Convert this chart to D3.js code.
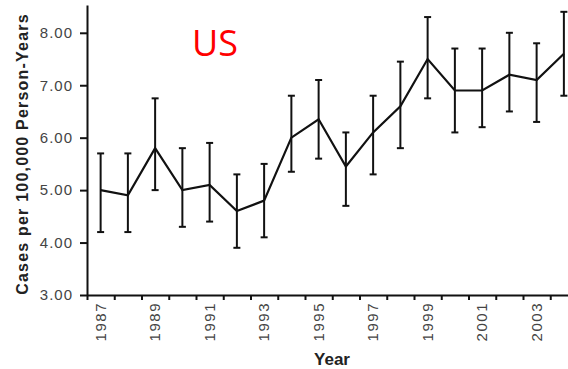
<!DOCTYPE html>
<html>
<head>
<meta charset="utf-8">
<script src="https://cdn.jsdelivr.net/npm/d3@7"></script>
<style>
  body { margin: 0; background: #fff; }
  text { font-family: "Liberation Sans", Arial, sans-serif; }
</style>
</head>
<body>
<div id="chart"></div>
<script>
// values
var years = [1987, 1988, 1989, 1990, 1991, 1992, 1993, 1994, 1995, 1996,
             1997, 1998, 1999, 2000, 2001, 2002, 2003, 2004];
var rates = [5.0, 4.9, 5.8, 5.0, 5.1, 4.6, 4.8, 6.0, 6.35, 5.45,
             6.1, 6.6, 7.5, 6.9, 6.9, 7.2, 7.1, 7.6];
var lower = [4.2, 4.2, 5.0, 4.3, 4.4, 3.9, 4.1, 5.35, 5.6, 4.7,
             5.3, 5.8, 6.75, 6.1, 6.2, 6.5, 6.3, 6.8];
var upper = [5.7, 5.7, 6.75, 5.8, 5.9, 5.3, 5.5, 6.8, 7.1, 6.1,
             6.8, 7.45, 8.3, 7.7, 7.7, 8.0, 7.8, 8.4];
var yTicks = [3, 4, 5, 6, 7, 8];
var xLabels = [1987, 1989, 1991, 1993, 1995, 1997, 1999, 2001, 2003];

var data = years.map(function (y, i) {
  return {year: y, rate: rates[i], lo: lower[i], hi: upper[i]};
});

var width = 568, height = 369;

var svg = d3.select("#chart").append("svg")
  .attr("width", width)
  .attr("height", height);

var xScale = d3.scaleLinear()
  .domain([1986.5, 2004.5])
  .range([87, 577.5]);

var yScale = d3.scaleLinear()
  .domain([3, 8.53])
  .range([295, 5]);

// y axis
var yAxis = svg.append("g")
  .attr("transform", "translate(87,0)")
  .call(d3.axisLeft(yScale).tickValues(yTicks).tickSize(7).tickPadding(7)
    .tickFormat(d3.format(".2f")).tickSizeOuter(0));
yAxis.select(".domain").attr("stroke", "#111").attr("stroke-width", 2);
yAxis.selectAll(".tick line").attr("stroke", "#111").attr("stroke-width", 2);
yAxis.selectAll(".tick text")
  .attr("font-size", 15)
  .attr("letter-spacing", 1)
  .attr("fill", "#444")
  .style("font-family", "Liberation Sans, Arial, sans-serif");

// x axis: ticks between years
var bounds = d3.range(1986.5, 2005, 1);
var xAxis = svg.append("g")
  .attr("transform", "translate(0,295)")
  .call(d3.axisBottom(xScale).tickValues(bounds).tickSize(5)
    .tickFormat("").tickSizeOuter(0));
xAxis.select(".domain").attr("stroke", "#111").attr("stroke-width", 2);
xAxis.selectAll(".tick line").attr("stroke", "#111").attr("stroke-width", 2);

// odd-year labels, rotated
svg.append("g")
  .selectAll("text")
  .data(xLabels)
  .enter().append("text")
  .attr("transform", function (d) {
    return "translate(" + (xScale(d) + 5) + ",302) rotate(-90)";
  })
  .attr("text-anchor", "end")
  .attr("font-size", 15)
  .attr("letter-spacing", 1.5)
  .attr("fill", "#444")
  .text(function (d) { return d; });

// error bars
var bars = svg.append("g")
  .selectAll("g")
  .data(data)
  .enter().append("g");

bars.append("line")
  .attr("x1", function (d) { return xScale(d.year); })
  .attr("x2", function (d) { return xScale(d.year); })
  .attr("y1", function (d) { return yScale(d.lo); })
  .attr("y2", function (d) { return yScale(d.hi); })
  .attr("stroke", "#111")
  .attr("stroke-width", 2);

["lo", "hi"].forEach(function (k) {
  bars.append("line")
    .attr("x1", function (d) { return xScale(d.year) - 3.5; })
    .attr("x2", function (d) { return xScale(d.year) + 3.5; })
    .attr("y1", function (d) { return yScale(d[k]); })
    .attr("y2", function (d) { return yScale(d[k]); })
    .attr("stroke", "#111")
    .attr("stroke-width", 2);
});

var line = d3.line()
  .x(function (d) { return xScale(d.year); })
  .y(function (d) { return yScale(d.rate); });

svg.append("path")
  .datum(data)
  .attr("d", line)
  .attr("fill", "none")
  .attr("stroke", "#111")
  .attr("stroke-width", 2.2)
  .attr("stroke-linejoin", "miter");

// axis titles
svg.append("text")
  .attr("transform", "translate(28,154) rotate(-90)")
  .attr("text-anchor", "middle")
  .attr("font-size", 16)
  .attr("font-weight", "bold")
  .attr("letter-spacing", 1.2)
  .attr("fill", "#222")
  .text("Cases per 100,000 Person-Years");

svg.append("text")
  .attr("x", 332)
  .attr("y", 365)
  .attr("text-anchor", "middle")
  .attr("font-size", 17)
  .attr("font-weight", "bold")
  .attr("fill", "#222")
  .text("Year");

// region label
svg.append("text")
  .attr("x", 215)
  .attr("y", 56)
  .attr("text-anchor", "middle")
  .attr("font-size", 36)
  .attr("fill", "#ff0000")
  .style("font-family", "Open Sans, sans-serif")
  .text("US");
</script>
</body>
</html>
